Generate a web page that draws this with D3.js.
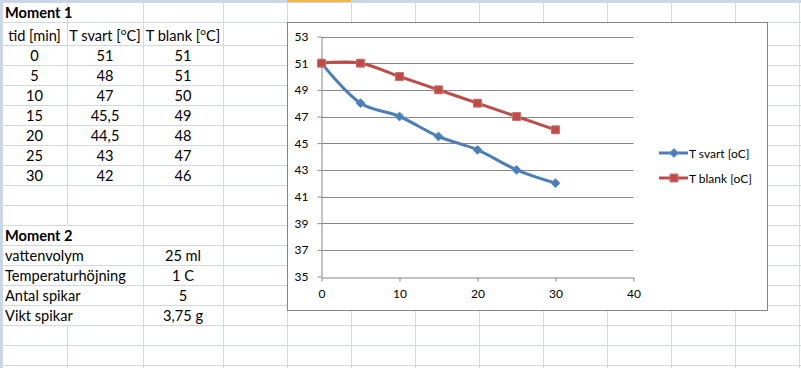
<!DOCTYPE html>
<html><head><meta charset="utf-8">
<script src="https://cdn.jsdelivr.net/npm/d3@7"></script>
<style>
html,body{margin:0;padding:0;background:#fff;}
svg{display:block;}
text{font-family:Lato,"Liberation Sans",sans-serif;}
</style></head>
<body>
<svg id="c" width="801" height="368"></svg>
<script>
// ---- data ----
const tid = [0, 5, 10, 15, 20, 25, 30];
const tSvart = [51, 48, 47, 45.5, 44.5, 43, 42];
const tBlank = [51, 51, 50, 49, 48, 47, 46];
const seriesNames = ["T svart [oC]", "T blank [oC]"];
const xTicks = [0, 10, 20, 30, 40];
const yTicks = [35, 37, 39, 41, 43, 45, 47, 49, 51, 53];
const tableHeaders = ["tid [min]", "T svart [", "T blank ["];
const moment2Labels = ["vattenvolym", "Temperaturhöjning", "Antal spikar", "Vikt spikar"];
const moment2Values = ["25 ml", "1 C", "5", "3,75 g"];

const svg = d3.select("#c");
const fmt = v => String(v).replace(".", ",");

// ---- spreadsheet grid ----
const colX = [2, 67, 143, 223, 287, 351, 415, 479, 543, 607, 671, 735, 799];
const rowY = [2, 22, 45];
for (let y = 65; y <= 368; y += 20) rowY.push(y);
const grid = svg.append("g");
grid.append("rect").attr("x", 0).attr("y", 0).attr("width", 801).attr("height", 2).attr("fill", "#C9D6E8");
grid.append("rect").attr("x", 287).attr("y", 0).attr("width", 64).attr("height", 2).attr("fill", "#F5B74A");
grid.append("rect").attr("x", 0).attr("y", 0).attr("width", 2).attr("height", 368).attr("fill", "#C9D6E8");
colX.forEach(x => grid.append("line").attr("x1", x + 0.5).attr("x2", x + 0.5).attr("y1", 2).attr("y2", 368)
  .attr("stroke", "#D0D7E5"));
rowY.forEach(y => grid.append("line").attr("x1", 2).attr("x2", 801).attr("y1", y + 0.5).attr("y2", y + 0.5)
  .attr("stroke", "#D0D7E5"));
// text overflow area: column line between A and B hidden in Moment 2 label rows
grid.append("rect").attr("x", 60).attr("y", 226).attr("width", 20).attr("height", 99).attr("fill", "#fff");
for (let i = 0; i < 5; i++) {
  grid.append("line").attr("x1", 60).attr("x2", 80).attr("y1", 245.5 + i * 20).attr("y2", 245.5 + i * 20).attr("stroke", "#D0D7E5");
}
// ---- table text ----
const fs = 14.6;
const cells = svg.append("g").attr("font-size", fs).attr("fill", "#000");
cells.append("text").attr("x", 5).attr("y", 18).attr("font-weight", "bold").text("Moment 1");
const colC = [34.5, 105, 183];
tableHeaders.forEach((h, i) => {
  const t = cells.append("text").attr("x", colC[i]).attr("y", 40.5).attr("text-anchor", "middle");
  if (i === 0) { t.text(h); return; }
  t.append("tspan").text(h);
  t.append("tspan").attr("font-size", 10).attr("dy", -6).text("o");
  t.append("tspan").attr("dy", 6).text("C]");
});
tid.forEach((v, i) => {
  const y = 61 + i * 20;
  cells.append("text").attr("x", colC[0]).attr("y", y).attr("text-anchor", "middle").text(fmt(v));
  cells.append("text").attr("x", colC[1]).attr("y", y).attr("text-anchor", "middle").text(fmt(tSvart[i]));
  cells.append("text").attr("x", colC[2]).attr("y", y).attr("text-anchor", "middle").text(fmt(tBlank[i]));
});
cells.append("text").attr("x", 5).attr("y", 241).attr("font-weight", "bold").text("Moment 2");
moment2Labels.forEach((l, i) => {
  const y = 261 + i * 20;
  cells.append("text").attr("x", 5).attr("y", y).text(l);
  cells.append("text").attr("x", colC[2]).attr("y", y).attr("text-anchor", "middle").text(moment2Values[i]);
});

// ---- chart ----
svg.append("rect").attr("x", 287.5).attr("y", 22.5).attr("width", 480).attr("height", 288)
  .attr("fill", "#fff").attr("stroke", "#868686");

const x = d3.scaleLinear().domain([0, 40]).range([321.5, 633.5]);
const y = d3.scaleLinear().domain([35, 53]).range([276.5, 36.5]);
const ch = svg.append("g");
const cfs = 12;
// gridlines
ch.append("g").selectAll("line").data(yTicks.filter(d => d !== 35)).join("line")
  .attr("x1", x(0)).attr("x2", x(40)).attr("y1", d => Math.round(y(d)) + 0.5).attr("y2", d => Math.round(y(d)) + 0.5)
  .attr("stroke", "#868686");
// axes
const yAxis = d3.axisLeft(y).tickValues(yTicks).tickSize(4).tickSizeOuter(0);
const gy = ch.append("g").attr("transform", `translate(${x(0)},0)`).call(yAxis);
gy.select(".domain").attr("stroke", "#868686");
gy.selectAll(".tick line").attr("stroke", "#868686");
gy.selectAll(".tick text").attr("font-size", cfs).attr("fill", "#000").attr("x", -13)
  .attr("font-family", "Lato, 'Liberation Sans', sans-serif");
const xAxis = d3.axisBottom(x).tickValues(xTicks).tickSize(4).tickSizeOuter(0);
const gx = ch.append("g").attr("transform", `translate(0,${Math.round(y(35)) + 0.5})`).call(xAxis);
gx.select(".domain").attr("stroke", "#868686");
gx.selectAll(".tick line").attr("stroke", "#868686");
gx.selectAll(".tick text").attr("font-size", cfs).attr("fill", "#000").attr("dy", "1.15em")
  .attr("font-family", "Lato, 'Liberation Sans', sans-serif");

const colors = ["#4A7EBB", "#BE4B48"];
const series = [tSvart, tBlank];
const line = d3.line().x((d, i) => x(tid[i])).y(d => y(d)).curve(d3.curveCatmullRom.alpha(0.5));
const diamond = d3.symbol().type(d3.symbolDiamond2).size(50);
const square = d3.symbol().type(d3.symbolSquare2).size(80);
series.forEach((s, k) => {
  ch.append("path").datum(s).attr("d", line).attr("fill", "none").attr("stroke", colors[k])
    .attr("stroke-width", 3).attr("stroke-linejoin", "round").attr("stroke-linecap", "round");
});
series.forEach((s, k) => {
  ch.append("g").selectAll("path").data(s).join("path")
    .attr("transform", (d, i) => `translate(${x(tid[i])},${y(d)})`)
    .attr("d", k === 0 ? diamond : square)
    .attr("fill", colors[k]).attr("stroke", k === 0 ? "#5B8CC8" : "#CC6E6C").attr("stroke-width", 1);
});
// legend
const lg = ch.append("g");
seriesNames.forEach((n, k) => {
  const ly = 153 + k * 25;
  lg.append("line").attr("x1", 659).attr("x2", 688).attr("y1", ly).attr("y2", ly)
    .attr("stroke", colors[k]).attr("stroke-width", 3);
  lg.append("path").attr("transform", `translate(674,${ly})`).attr("d", k === 0 ? diamond : square)
    .attr("fill", colors[k]).attr("stroke", k === 0 ? "#5B8CC8" : "#CC6E6C");
  lg.append("text").attr("x", 689).attr("y", ly + 4.5).attr("font-size", cfs).attr("fill", "#000").text(n);
});
</script>
</body></html>
